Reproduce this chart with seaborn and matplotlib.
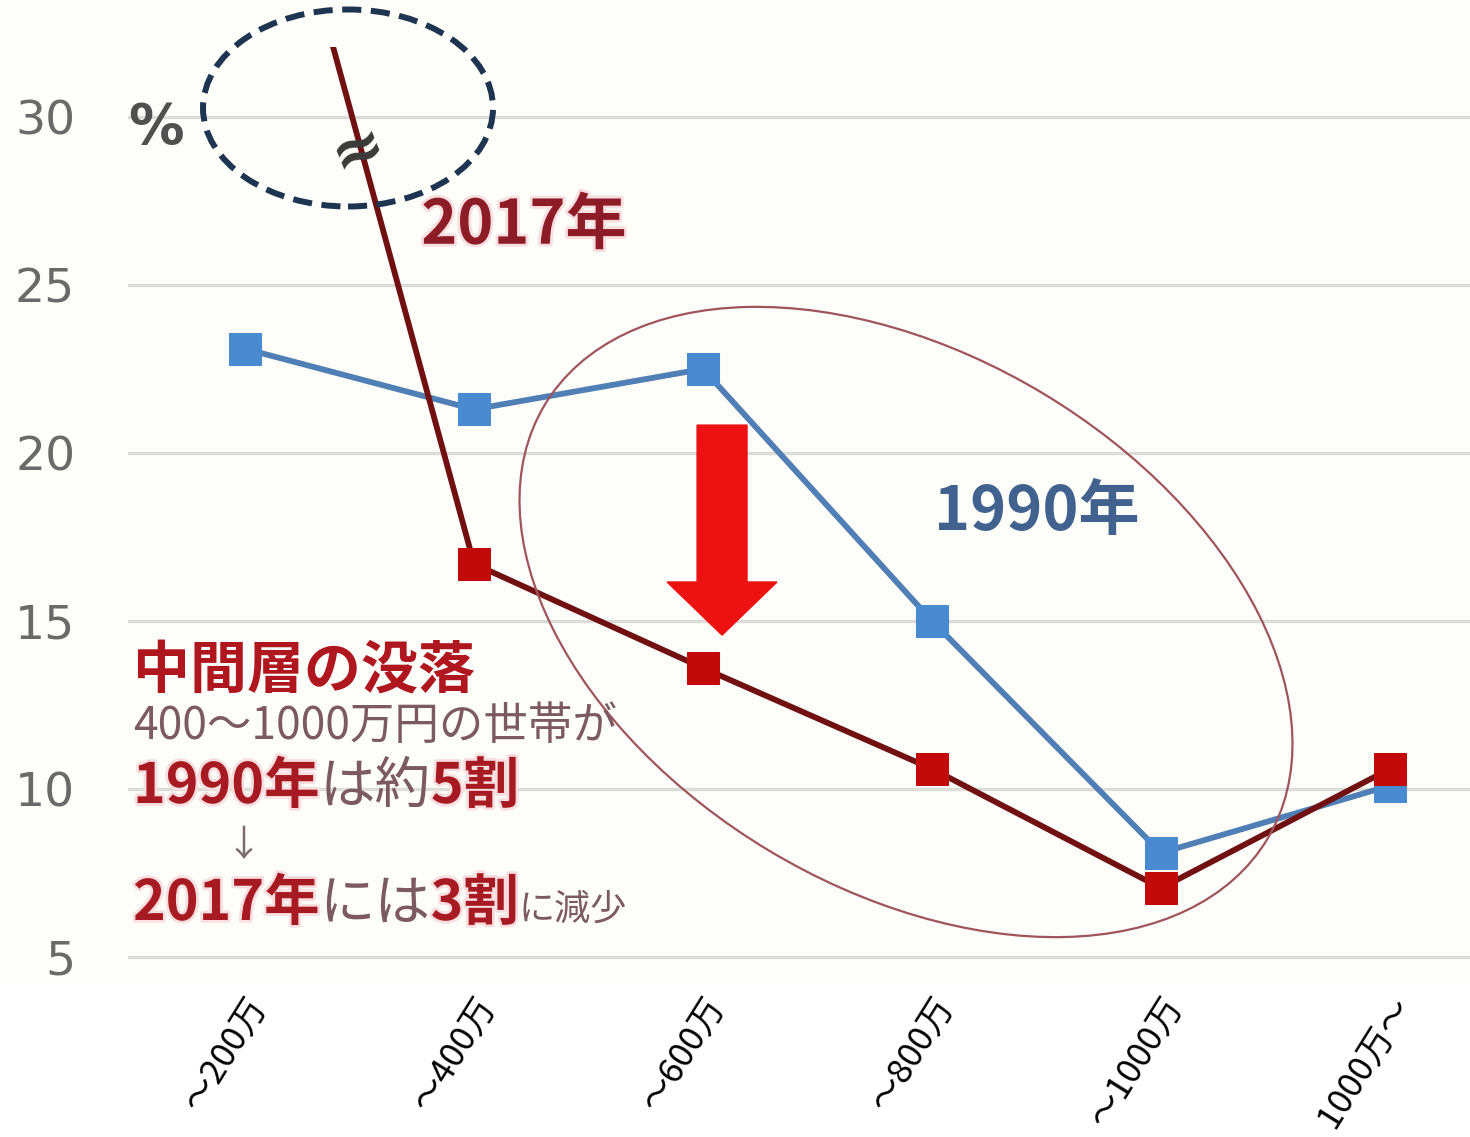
import matplotlib
matplotlib.use("Agg")
import matplotlib.pyplot as plt
import matplotlib.patheffects as pe
from matplotlib.patches import Ellipse, FancyArrow, Rectangle
from matplotlib.transforms import ScaledTranslation
import pandas as pd
import seaborn as sns

# Household income brackets and the share of households in each (%)
income = ["〜200万", "〜400万", "〜600万", "〜800万", "〜1000万", "1000万〜"]
share_1990 = [23.1, 21.3, 22.5, 15.0, 8.1, 10.1]
share_2017 = [41.7, 16.7, 13.6, 10.6, 7.05, 10.6]
y_ticks = [5, 10, 15, 20, 25, 30]

W, H = 1470, 1137
sns.set_theme(style="white")
plt.rcParams["font.family"] = ["Noto Sans CJK JP", "DejaVu Sans"]

fig = plt.figure(figsize=(W / 100, H / 100), dpi=100, facecolor="white")
fig.add_artist(Rectangle((0, 155 / H), 1, 1 - 155 / H, transform=fig.transFigure,
                         facecolor="#fdfdf9", edgecolor="none", zorder=-5))

ax = fig.add_axes([128 / W, 155 / H, 1342 / W, 935 / H])
ax.set_facecolor("none")

df90 = pd.DataFrame({"income": income, "share": share_1990})
df17 = pd.DataFrame({"income": income, "share": share_2017})

sns.lineplot(data=df90, x="income", y="share", ax=ax, sort=False,
             color="#4f7fb4", linewidth=4.2, marker="s", markersize=23,
             markerfacecolor="#4a8ad0", markeredgecolor="#4a8ad0", zorder=3)
sns.lineplot(data=df17, x="income", y="share", ax=ax, sort=False,
             color="#701010", linewidth=4.2, marker="s", markersize=23,
             markerfacecolor="#c30a0a", markeredgecolor="#c30a0a", zorder=4)

ax.set_xlim(-0.511, 5.349)
ax.set_ylim(4.256, 32.083)
ax.set_xlabel("")
ax.set_ylabel("")
for s in ax.spines.values():
    s.set_visible(False)

ax.set_yticks(y_ticks)
ax.set_yticklabels([str(v) for v in y_ticks], family="DejaVu Sans")
ax.tick_params(axis="y", length=0, pad=38, labelsize=34, labelcolor="#6a6a6a")
ax.yaxis.grid(True, color="#dcdcd8", linewidth=2.4)
ax.xaxis.grid(False)

ax.set_xticks(range(len(income)))
ax.set_xticklabels(income, rotation=58, ha="right", va="center",
                   rotation_mode="anchor", fontsize=25, color="black")
ax.tick_params(axis="x", length=0, pad=13)
shift = ScaledTranslation(14 / 100, 0, fig.dpi_scale_trans)
for lab in ax.get_xticklabels():
    lab.set_transform(lab.get_transform() + shift)


def px(x, y):
    """Pixel position (origin top-left) to inches for dpi_scale_trans."""
    return x / 100, (H - y) / 100


tr = fig.dpi_scale_trans
halo = [pe.withStroke(linewidth=4, foreground="#f8dede")]

# unit label and axis-break mark
fig.text(*px(128, 143), "%", transform=tr, family="DejaVu Sans", weight="bold",
         fontsize=40, color="#505050", ha="left", va="baseline")
fig.text(*px(358, 150), "≈", transform=tr, family="DejaVu Sans", weight="bold",
         fontsize=46, color="#3a3a3a", ha="center", va="center", rotation=22,
         zorder=6)
fig.add_artist(Ellipse(px(348, 108), 2.90, 1.97, transform=tr, fill=False,
                       edgecolor="#1e3552", linewidth=4.3,
                       linestyle=(0, (3.2, 1.6)), zorder=7))

# series labels
fig.text(*px(524, 226), "2017年", transform=tr, weight="bold", fontsize=44,
         color="#8e1c26", ha="center", va="center", path_effects=halo)
fig.text(*px(1037, 512), "1990年", transform=tr, weight="bold", fontsize=44,
         color="#41618f", ha="center", va="center")

# highlighted middle brackets and the drop arrow
fig.add_artist(Ellipse(px(906, 622), 8.43, 5.33, angle=-31, transform=tr,
                       fill=False, edgecolor="#a0545e", linewidth=1.6, zorder=2))
ax.add_patch(FancyArrow(2.083, 20.83, 0, -6.25, width=0.218, head_width=0.48,
                        head_length=1.58, length_includes_head=True,
                        color="#ee1111", zorder=5))

# caption block built from coloured runs
renderer = fig.canvas.get_renderer()
RED = "#a81a22"
GRAY = "#7d5a62"


def runs(x, y, parts):
    for s, size, color, weight in parts:
        t = fig.text(*px(x, y), s, transform=tr, fontsize=size, color=color,
                     weight=weight, ha="left", va="baseline",
                     path_effects=halo if color == RED else None)
        x += t.get_window_extent(renderer).width


runs(133, 688, [("中間層の没落", 41, "#b0161e", "bold")])
runs(133, 739, [("400〜1000万円の世帯が", 32, GRAY, "normal")])
runs(133, 803, [("1990年", 40, RED, "bold"), ("は約", 40, GRAY, "normal"),
                ("5割", 40, RED, "bold")])
fig.text(*px(243, 846), "↓", transform=tr, fontsize=26, color="#7a6a6a",
         ha="center", va="center")
runs(133, 920, [("2017年", 40, RED, "bold"), ("には", 40, GRAY, "normal"),
                ("3割", 40, RED, "bold"), ("に減少", 26, GRAY, "normal")])

fig.savefig("out.png", dpi=100, facecolor="white")
